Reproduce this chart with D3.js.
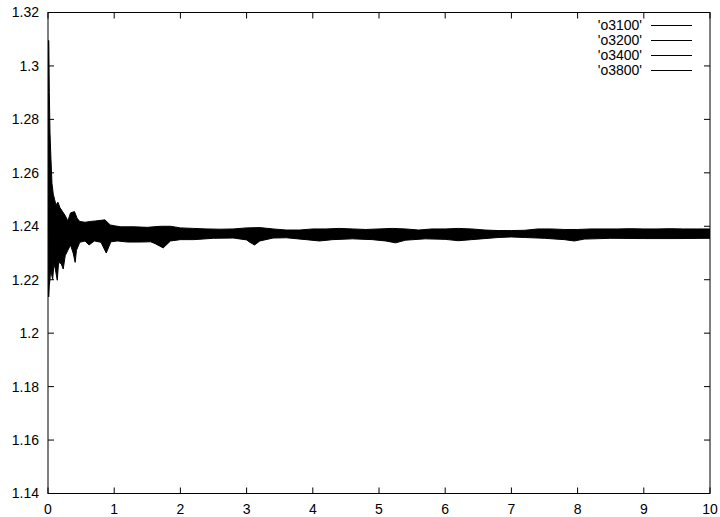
<!DOCTYPE html>
<html>
<head>
<meta charset="utf-8">
<script src="https://cdn.jsdelivr.net/npm/d3@7"></script>
<style>
  body { margin: 0; background: #fff; }
  text { font-family: "Liberation Sans", Arial, sans-serif; font-size: 14px; fill: #000; }
</style>
</head>
<body>
<svg id="chart" width="720" height="517"></svg>
<script>
// legend entries (all four runs overlap in black)
const seriesNames = ["'o3100'", "'o3200'", "'o3400'", "'o3800'"];

// tick labels
const xTicks = [0, 1, 2, 3, 4, 5, 6, 7, 8, 9, 10];
const yTicks = [1.14, 1.16, 1.18, 1.2, 1.22, 1.24, 1.26, 1.28, 1.3, 1.32];

// upper edge of the overlaid oscillation band
const upperT = [0, 0.005, 0.012, 0.02, 0.03, 0.045, 0.06, 0.08, 0.1, 0.12, 0.15, 0.18, 0.22, 0.26, 0.3,
  0.34, 0.4, 0.44, 0.48, 0.56, 0.64, 0.72, 0.86, 0.94, 1.0, 1.1, 1.3, 1.5, 1.6, 1.7, 1.85, 2.0, 2.2,
  2.4, 2.6, 2.8, 3.0, 3.2, 3.4, 3.6, 3.8, 4.0, 4.2, 4.4, 4.6, 4.8, 5.0, 5.2, 5.4, 5.6, 5.8, 6.0, 6.2,
  6.4, 6.6, 6.8, 7.0, 7.2, 7.4, 7.6, 7.8, 8.0, 8.2, 8.4, 8.6, 8.8, 9.0, 9.2, 9.4, 9.6, 9.8, 10];
const upperV = [1.240, 1.3095, 1.3095, 1.290, 1.275, 1.265, 1.256, 1.252, 1.250, 1.248, 1.249, 1.247,
  1.2455, 1.244, 1.242, 1.245, 1.2455, 1.243, 1.2418, 1.2415, 1.2418, 1.242, 1.2424, 1.2405, 1.2402,
  1.2398, 1.2398, 1.2396, 1.2398, 1.240, 1.240, 1.2394, 1.2392, 1.239, 1.2389, 1.239, 1.2394, 1.2395,
  1.239, 1.2386, 1.2386, 1.239, 1.239, 1.2392, 1.239, 1.2388, 1.239, 1.2392, 1.239, 1.2386, 1.239,
  1.239, 1.2392, 1.239, 1.2386, 1.2384, 1.2384, 1.2385, 1.239, 1.239, 1.2388, 1.2388, 1.239, 1.239,
  1.239, 1.2391, 1.239, 1.239, 1.2391, 1.239, 1.239, 1.239];

// lower edge of the band
const lowerT = [0, 0.005, 0.012, 0.02, 0.03, 0.04, 0.07, 0.09, 0.11, 0.14, 0.16, 0.2, 0.23, 0.26, 0.3,
  0.34, 0.38, 0.41, 0.43, 0.48, 0.56, 0.62, 0.7, 0.8, 0.88, 0.95, 1.05, 1.2, 1.4, 1.55, 1.62, 1.74,
  1.85, 2.0, 2.2, 2.5, 2.8, 3.0, 3.05, 3.12, 3.2, 3.4, 3.6, 3.9, 4.1, 4.3, 4.6, 4.9, 5.1, 5.25, 5.4,
  5.7, 6.0, 6.2, 6.4, 6.8, 7.0, 7.2, 7.5, 7.8, 7.95, 8.1, 8.5, 9.0, 9.5, 10];
const lowerV = [1.240, 1.214, 1.2136, 1.218, 1.220, 1.224, 1.220, 1.226, 1.224, 1.2198, 1.2265, 1.226,
  1.224, 1.229, 1.231, 1.233, 1.230, 1.2265, 1.231, 1.234, 1.2345, 1.233, 1.2345, 1.234, 1.230, 1.2342,
  1.2345, 1.2341, 1.2341, 1.2342, 1.2335, 1.2319, 1.2345, 1.235, 1.235, 1.2355, 1.2356, 1.2349, 1.234,
  1.233, 1.2345, 1.2356, 1.2357, 1.235, 1.2345, 1.235, 1.2353, 1.235, 1.2345, 1.2338, 1.2348, 1.2353,
  1.2351, 1.2346, 1.235, 1.2358, 1.236, 1.2358, 1.2355, 1.235, 1.2345, 1.2352, 1.2355, 1.2354, 1.2354,
  1.2355];

const svg = d3.select('#chart');
const margin = { left: 48, right: 10, top: 12.5, bottom: 23.5 };
const width = 720, height = 517;

const x = d3.scaleLinear().domain([0, 10]).range([margin.left, width - margin.right]);
const y = d3.scaleLinear().domain([1.14, 1.32]).range([height - margin.bottom, margin.top]);

svg.append('rect').attr('width', width).attr('height', height).attr('fill', '#fff');

svg.append('clipPath').attr('id', 'plot-clip')
  .append('rect')
  .attr('x', x(0)).attr('y', y(1.32))
  .attr('width', x(10) - x(0)).attr('height', y(1.14) - y(1.32));

// band = upper edge forwards, lower edge backwards
const upperPts = upperT.map((t, i) => [t, upperV[i]]);
const lowerPts = lowerT.map((t, i) => [t, lowerV[i]]).reverse();

const line = d3.line().x((d) => x(d[0])).y((d) => y(d[1]));

svg.append('path')
  .attr('clip-path', 'url(#plot-clip)')
  .attr('d', line(upperPts.concat(lowerPts)) + 'Z')
  .attr('fill', '#000')
  .attr('stroke', '#000')
  .attr('stroke-width', 1)
  .attr('stroke-linejoin', 'round');

// frame
svg.append('rect')
  .attr('x', x(0)).attr('y', y(1.32))
  .attr('width', x(10) - x(0)).attr('height', y(1.14) - y(1.32))
  .attr('fill', 'none').attr('stroke', '#000').attr('stroke-width', 1);

// ticks, inward on all four sides (gnuplot style)
const tickLen = 6;
const axes = svg.append('g').attr('stroke', '#000').attr('stroke-width', 1);

xTicks.forEach((t) => {
  axes.append('line').attr('x1', x(t)).attr('x2', x(t)).attr('y1', y(1.14)).attr('y2', y(1.14) - tickLen);
  axes.append('line').attr('x1', x(t)).attr('x2', x(t)).attr('y1', y(1.32)).attr('y2', y(1.32) + tickLen);
});
yTicks.forEach((v) => {
  axes.append('line').attr('x1', x(0)).attr('x2', x(0) + tickLen).attr('y1', y(v)).attr('y2', y(v));
  axes.append('line').attr('x1', x(10)).attr('x2', x(10) - tickLen).attr('y1', y(v)).attr('y2', y(v));
});

svg.selectAll('.xlab').data(xTicks).enter()
  .append('text')
  .attr('class', 'xlab')
  .attr('x', (d) => x(d))
  .attr('y', y(1.14) + 20.5)
  .attr('text-anchor', 'middle')
  .text((d) => d);

svg.selectAll('.ylab').data(yTicks).enter()
  .append('text')
  .attr('class', 'ylab')
  .attr('x', x(0) - 9)
  .attr('y', (d) => y(d))
  .attr('dy', '0.35em')
  .attr('text-anchor', 'end')
  .text((d) => d3.format('~g')(d));

// legend
const legend = svg.append('g');
seriesNames.forEach((name, i) => {
  const ly = 25.5 + i * 15;
  legend.append('text')
    .attr('x', 642)
    .attr('y', ly)
    .attr('dy', '0.35em')
    .attr('text-anchor', 'end')
    .text(name);
  legend.append('line')
    .attr('x1', 651).attr('x2', 692)
    .attr('y1', ly).attr('y2', ly)
    .attr('stroke', '#000').attr('stroke-width', 1);
});
</script>
</body>
</html>
